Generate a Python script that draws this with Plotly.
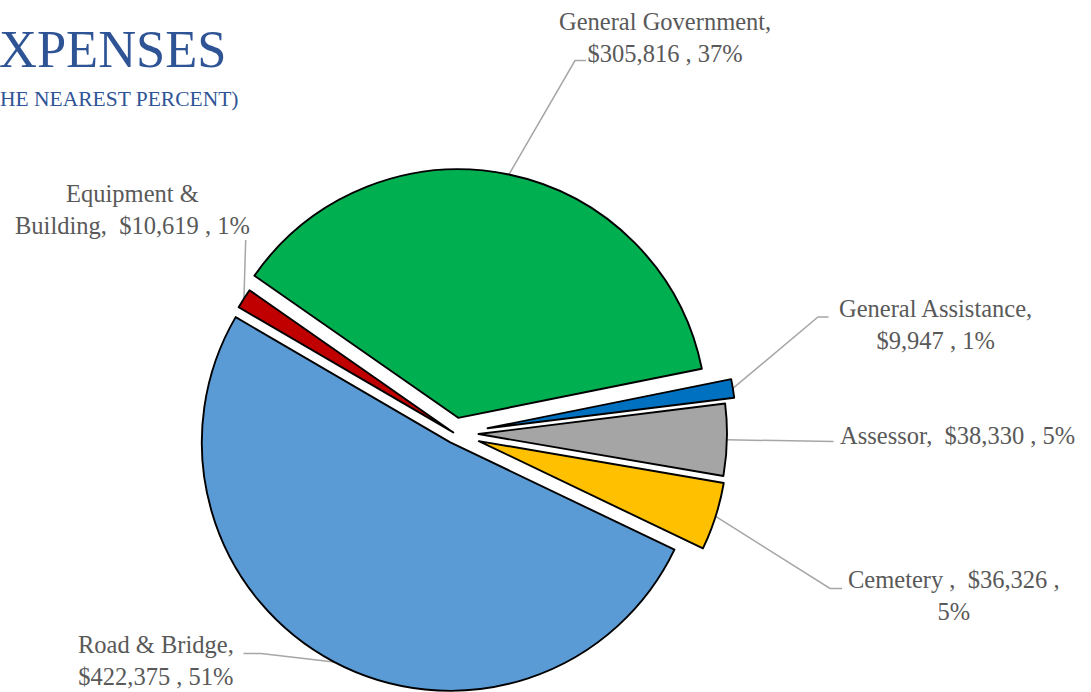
import math
import plotly.graph_objects as go

# ---------------- data ----------------
categories = ["General Government", "General Assistance", "Assessor",
              "Cemetery", "Road & Bridge", "Equipment & Building"]
amounts = [305816, 9947, 38330, 36326, 422375, 10619]
label_texts = [
    "General Government,<br>$305,816 , 37%",
    "General Assistance,<br>$9,947 , 1%",
    "Assessor,\u00a0 $38,330 , 5%",
    "Cemetery ,\u00a0 $36,326 ,<br>5%",
    "Road & Bridge,<br>$422,375 , 51%",
    "Equipment &<br>Building,\u00a0 $10,619 , 1%",
]
title_text = "XPENSES"
subtitle_text = "HE NEAREST PERCENT)"

# ---------------- styles / layout ----------------
slice_colors = ["#00B050", "#0070C0", "#A5A5A5", "#FFC000", "#5B9BD5", "#C00000"]
W, H = 1091, 692
CX, CY = 455.0, 433.5          # pie centre (px)
R = 248.5                      # radius (px)
ROT = -55.1                    # start angle of first slice
explode_px = [16, 33, 23.5, 25, 10, 2]

# label placement: (x centre, first baseline, n lines, elbow x, elbow y, end x, end y)
label_pos = [
    (665, 29.5, 2, 575, 60.5, 586, 60.5),
    (935.5, 317, 2, 818, 317, 828.5, 317),
    (957.5, 443.3, 1, 833.5, 441.5, 833.5, 441.5),
    (954, 588.3, 2, 830, 588.5, 842, 588.5),
    (155.5, 653.3, 2, 261, 653.5, 243.5, 653.5),
    (132, 201.7, 2, 245.7, 240, 245.7, 240),
]
LABEL_SIZE = 24.5
LABEL_FONT = "Liberation Serif"


def px_x(x):
    return x / W


def px_y(y):
    return 1 - y / H


fig = go.Figure()
total = sum(amounts)
cum = 0.0
shapes = []
annotations = []
for i, v in enumerate(amounts):
    start = ROT + 360.0 * cum / total
    mid = start + 180.0 * v / total
    cum += v
    a = math.radians(mid)
    ux, uy = math.sin(a), -math.cos(a)
    cx = CX + explode_px[i] * ux
    cy = CY + explode_px[i] * uy
    dom_x = [max(0, (cx - R) / W), min(1, (cx + R) / W)]
    dom_y = [max(0, 1 - (cy + R) / H), min(1, 1 - (cy - R) / H)]
    fills = [slice_colors[j] if j == i else "rgba(0,0,0,0)" for j in range(len(amounts))]
    lcols = ["black" if j == i else "rgba(0,0,0,0)" for j in range(len(amounts))]
    lw = [1.9 if j == i else 0 for j in range(len(amounts))]
    fig.add_trace(go.Pie(
        values=amounts, labels=categories, sort=False, direction="clockwise",
        rotation=ROT, textinfo="none", showlegend=False,
        marker=dict(colors=fills, line=dict(color=lcols, width=lw)),
        domain=dict(x=dom_x, y=dom_y),
        hoverinfo="label+value+percent",
    ))
    # leader line from outer arc midpoint
    ax, ay = cx + R * ux, cy + R * uy
    lx, b1, n, ex, ey, tx, ty = label_pos[i]
    path = "M {:.5f} {:.5f} L {:.5f} {:.5f} L {:.5f} {:.5f}".format(
        px_x(ax), px_y(ay), px_x(ex), px_y(ey), px_x(tx), px_y(ty))
    shapes.append(dict(type="path", path=path, xref="paper", yref="paper",
                       line=dict(color="#A6A6A6", width=1.5), layer="below"))
    bn = b1 + (n - 1) * 1.3 * LABEL_SIZE
    ymid = (b1 + bn) / 2 - 0.3375 * LABEL_SIZE
    annotations.append(dict(
        text=label_texts[i], x=px_x(lx), y=px_y(ymid), xref="paper", yref="paper",
        xanchor="center", yanchor="middle", align="center", showarrow=False,
        font=dict(family=LABEL_FONT, size=LABEL_SIZE, color="#595959")))

annotations.append(dict(
    text=title_text, x=0, y=px_y(66.7 - 0.3375 * 52.5), xref="paper", yref="paper",
    xanchor="left", yanchor="middle", showarrow=False, xshift=-3,
    font=dict(family=LABEL_FONT, size=52.5, color="#2F5496")))
annotations.append(dict(
    text=subtitle_text, x=0, y=px_y(106 - 0.3375 * 21.5), xref="paper", yref="paper",
    xanchor="left", yanchor="middle", showarrow=False, xshift=-2,
    font=dict(family=LABEL_FONT, size=21.5, color="#2F5496")))

fig.update_layout(
    width=W, height=H, margin=dict(l=0, r=0, t=0, b=0),
    paper_bgcolor="white", plot_bgcolor="white", showlegend=False,
    shapes=shapes, annotations=annotations,
)

fig.write_html("out.html")
